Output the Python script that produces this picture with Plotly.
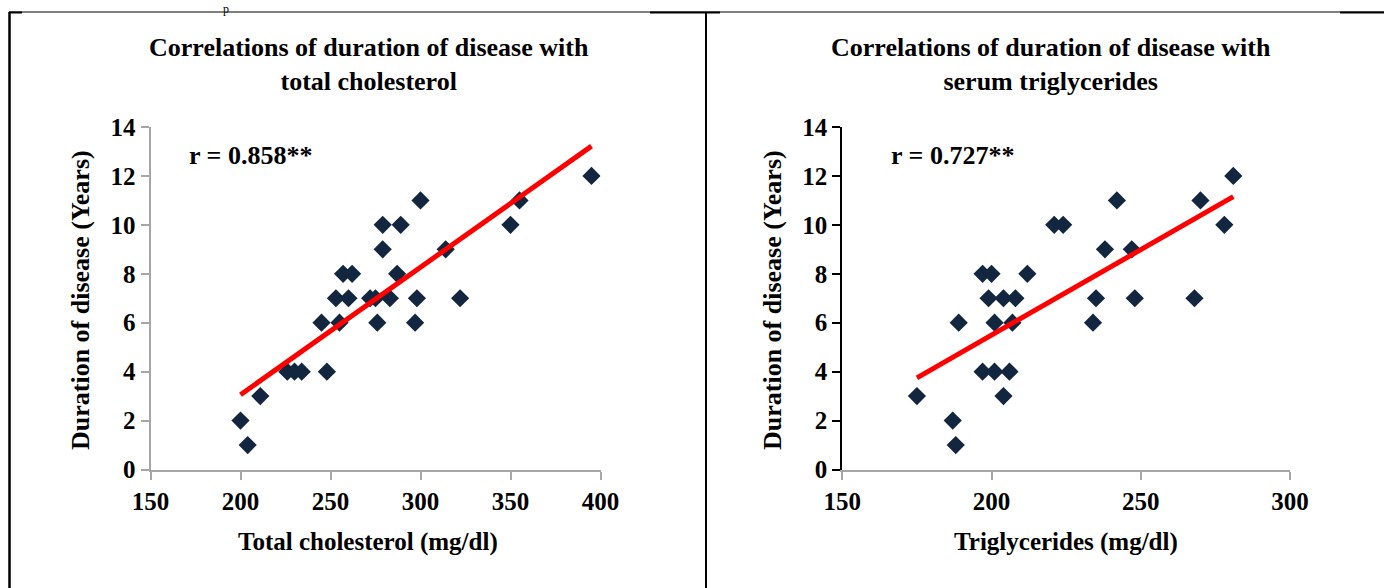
import numpy as np
import plotly.graph_objects as go

W, H = 1384, 588

# Left panel: total cholesterol vs duration
chol_x = [200, 204, 211, 226, 230, 234, 248, 245, 255, 253, 260, 257, 262, 272, 275, 276,
          283, 287, 279, 279, 289, 300, 298, 297, 314, 322, 350, 355, 395]
chol_y = [2, 1, 3, 4, 4, 4, 4, 6, 6, 7, 7, 8, 8, 7, 7, 6,
          7, 8, 9, 10, 10, 11, 7, 6, 9, 7, 10, 11, 12]

# Right panel: triglycerides vs duration
tg_x = [175, 187, 188, 189, 197, 201, 206, 204, 197, 200, 199, 204, 208, 201, 207, 212,
        221, 224, 242, 238, 247, 235, 248, 234, 268, 270, 278, 281]
tg_y = [3, 2, 1, 6, 4, 4, 4, 3, 8, 8, 7, 7, 7, 6, 6, 8,
        10, 10, 11, 9, 9, 7, 7, 6, 7, 11, 10, 12]

x_ticks_left = [150, 200, 250, 300, 350, 400]
x_ticks_right = [150, 200, 250, 300]
y_ticks = [0, 2, 4, 6, 8, 10, 12, 14]

titles = ["Correlations of duration of disease with<br>total cholesterol",
          "Correlations of duration of disease with<br>serum triglycerides"]
x_titles = ["Total cholesterol (mg/dl)", "Triglycerides (mg/dl)"]
y_title = "Duration of disease (Years)"
r_labels = ["r = 0.858**", "r = 0.727**"]

FONT = "Liberation Serif"
NAVY = "#12263f"

def px(x):
    return x / W

def py(y):
    return 1 - y / H

fig = go.Figure()

def add_panel(xs, ys, xa, ya):
    fig.add_trace(go.Scatter(x=xs, y=ys, mode="markers", xaxis=xa, yaxis=ya,
                             marker=dict(symbol="diamond", size=14, color=NAVY,
                                         line=dict(width=0)),
                             showlegend=False, hoverinfo="skip"))
    m, b = np.polyfit(xs, ys, 1)
    xe = [min(xs), max(xs)]
    fig.add_trace(go.Scatter(x=xe, y=[m * v + b for v in xe], mode="lines",
                             xaxis=xa, yaxis=ya,
                             line=dict(color="#ff0000", width=5),
                             showlegend=False, hoverinfo="skip"))

add_panel(chol_x, chol_y, "x", "y")
add_panel(tg_x, tg_y, "x2", "y2")

ydom = [py(469.5), py(127)]
tickfont = dict(family=FONT, size=25, color="black", weight=700)

common_x = dict(showgrid=False, zeroline=False, showline=True, linecolor="#a6a6a6",
                linewidth=2, ticks="outside", ticklen=8, tickwidth=2, tickcolor="#a6a6a6",
                tickfont=tickfont)
common_y = dict(showgrid=False, zeroline=False, showline=True, linewidth=2,
                ticks="outside", ticklen=8, tickwidth=2, range=[0, 14],
                tickvals=y_ticks, tickfont=tickfont)

fig.update_layout(
    width=W, height=H, margin=dict(l=0, r=0, t=0, b=0, autoexpand=False),
    plot_bgcolor="white", paper_bgcolor="white",
    xaxis=dict(domain=[px(150.5), px(600.5)], range=[150, 400], tickvals=x_ticks_left,
               anchor="y", **common_x),
    yaxis=dict(domain=ydom, anchor="x", linecolor="#a6a6a6", tickcolor="#a6a6a6",
               **common_y),
    xaxis2=dict(domain=[px(842.3), px(1290)], range=[150, 300], tickvals=x_ticks_right,
                anchor="y2", **common_x),
    yaxis2=dict(domain=ydom, anchor="x2", linecolor="black", tickcolor="black",
                **common_y),
)

def ann(text, x, y, size, angle=0, xanchor="center"):
    fig.add_annotation(text=text, x=px(x), y=py(y), xref="paper", yref="paper",
                       showarrow=False, textangle=angle, xanchor=xanchor, yanchor="middle",
                       font=dict(family=FONT, size=size, color="black", weight=700))

# titles
ann(titles[0], 369, 65, 26)
ann(titles[1], 1051, 65, 26)
# r labels
ann(r_labels[0], 187, 155, 26, xanchor="left")
ann(r_labels[1], 889, 155, 26, xanchor="left")
# axis titles
ann(x_titles[0], 368, 542, 25)
ann(x_titles[1], 1066, 542, 25)
ann(y_title, 80, 300, 26, angle=-90)
ann(y_title, 772, 300, 26, angle=-90)

# text fragment at top (from the surrounding document)
fig.add_annotation(text="p", x=px(226), y=py(0), xref="paper", yref="paper",
                   showarrow=False, xanchor="center", yanchor="top",
                   font=dict(family=FONT, size=12, color="black"))

# table borders
def line(x0, y0, x1, y1, w):
    fig.add_shape(type="line", xref="paper", yref="paper", x0=px(x0), y0=py(y0),
                  x1=px(x1), y1=py(y1), line=dict(color="black", width=w))

line(9.5, 12, 9.5, 590, 2.5)
line(9, 12, 1384, 12, 1)
line(9, 12.5, 22, 12.5, 2)
line(650, 12.5, 720, 12.5, 2)
line(1340, 12.5, 1384, 12.5, 2)
line(706, 12, 706, 590, 2)

fig.write_html("out.html", config={"displayModeBar": False},
               post_script="document.body.style.margin='0';")
